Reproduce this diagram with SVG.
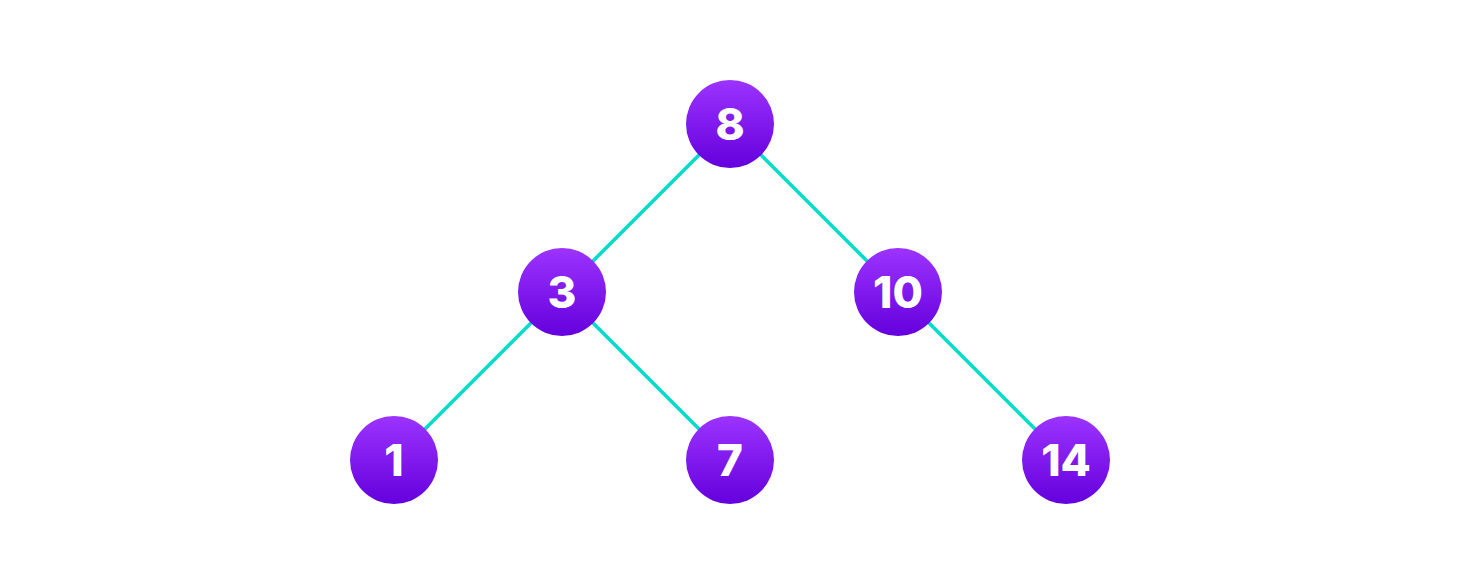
<svg xmlns="http://www.w3.org/2000/svg" width="1460" height="584" viewBox="0 0 1460 584">
<defs>
<linearGradient id="g" x1="0" y1="0" x2="0" y2="1">
<stop offset="0" stop-color="#9c33ff"/>
<stop offset="1" stop-color="#6400dc"/>
</linearGradient>
<style>
.edge{stroke:#00dcca;stroke-width:3.5;fill:none}
.node circle{fill:url(#g)}
.node text{fill:#ffffff;font-family:Inter,"Liberation Sans",sans-serif;font-weight:800;font-size:44px;text-anchor:middle}
</style>
</defs>
<rect width="1460" height="584" fill="#ffffff"/>
<g id="edges">
<line class="edge" x1="730" y1="124" x2="562" y2="292"/>
<line class="edge" x1="730" y1="124" x2="898" y2="292"/>
<line class="edge" x1="562" y1="292" x2="394" y2="460"/>
<line class="edge" x1="562" y1="292" x2="730" y2="460"/>
<line class="edge" x1="898" y1="292" x2="1066" y2="460"/>
</g>
<g id="n8" class="node"><circle cx="730" cy="124" r="44"/><text x="730" y="140">8</text></g>
<g id="n3" class="node"><circle cx="562" cy="292" r="44"/><text x="562" y="308">3</text></g>
<g id="n10" class="node"><circle cx="898" cy="292" r="44"/><text x="898" y="308">10</text></g>
<g id="n1" class="node"><circle cx="394" cy="460" r="44"/><text x="394" y="476">1</text></g>
<g id="n7" class="node"><circle cx="730" cy="460" r="44"/><text x="730" y="476">7</text></g>
<g id="n14" class="node"><circle cx="1066" cy="460" r="44"/><text x="1066" y="476">14</text></g>
</svg>
